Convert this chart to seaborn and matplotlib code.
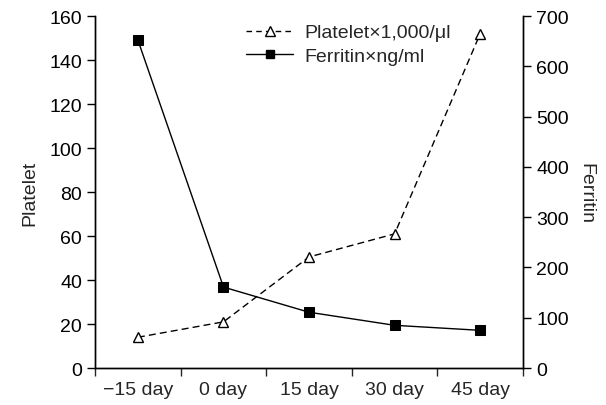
import numpy as np
import pandas as pd
import seaborn as sns
import matplotlib.pyplot as plt
from matplotlib.lines import Line2D

# --- data ---
days = ['\u221215 day', '0 day', '15 day', '30 day', '45 day']
platelet = [14, 21, 50.5, 61, 152]
ferritin = [652, 161, 111, 85, 75]

sns.set_theme(style='ticks')
plt.rcParams['font.family'] = ['Liberation Sans', 'DejaVu Sans']
plt.rcParams['font.size'] = 14

pos = np.arange(len(days)) + 0.5
df = pd.DataFrame({'pos': pos, 'Platelet': platelet, 'Ferritin': ferritin})

fig, ax = plt.subplots(figsize=(6.06, 4.06), dpi=100)
ax2 = ax.twinx()

sns.lineplot(data=df, x='pos', y='Platelet', ax=ax, color='black', lw=1,
             linestyle=(0, (5, 3)), marker='^', markersize=7,
             markerfacecolor='white', markeredgecolor='black', markeredgewidth=1)
sns.lineplot(data=df, x='pos', y='Ferritin', ax=ax2, color='black', lw=1,
             marker='s', markersize=6.5, markerfacecolor='black',
             markeredgecolor='black')

ax.set_xlim(0, 5)
ax.set_ylim(0, 160)
ax2.set_ylim(0, 700)
ax.set_yticks(np.arange(0, 161, 20))
ax2.set_yticks(np.arange(0, 701, 100))

# boundary ticks, labels centred between them
ax.set_xticks(np.arange(0, 6))
ax.set_xticklabels([])
ax.set_xticks(pos, minor=True)
ax.set_xticklabels(days, minor=True)
ax.tick_params(axis='x', which='minor', length=0, pad=9, labelsize=14)
ax.tick_params(axis='x', which='major', length=6, width=1, direction='out')
ax.tick_params(axis='y', length=6, width=1, labelsize=14, colors='black')
ax2.tick_params(axis='y', length=6, width=1, labelsize=14, colors='black')

ax.set_xlabel('')
ax.set_ylabel('Platelet', fontsize=14, labelpad=8)
ax2.set_ylabel('Ferritin', fontsize=14, rotation=270, labelpad=18)

for a in (ax, ax2):
    a.spines['top'].set_visible(False)
    for s in ('left', 'right', 'bottom'):
        a.spines[s].set_color('black')
        a.spines[s].set_linewidth(1)

handles = [
    Line2D([], [], color='black', lw=1, linestyle=(0, (4, 3)), marker='^',
           markersize=7, markerfacecolor='white', markeredgecolor='black'),
    Line2D([], [], color='black', lw=1, marker='s', markersize=6,
           markerfacecolor='black'),
]
labels = ['Platelet\u00d71,000/\u03bcl', 'Ferritin\u00d7ng/ml']
ax.legend(handles, labels, loc='upper left', bbox_to_anchor=(0.335, 1.0),
          frameon=False, fontsize=14, handlelength=2.4, handletextpad=0.6,
          labelspacing=0.3, borderaxespad=0)

fig.subplots_adjust(left=0.157, right=0.863, top=0.958, bottom=0.091)
fig.savefig('out.png', dpi=100)
